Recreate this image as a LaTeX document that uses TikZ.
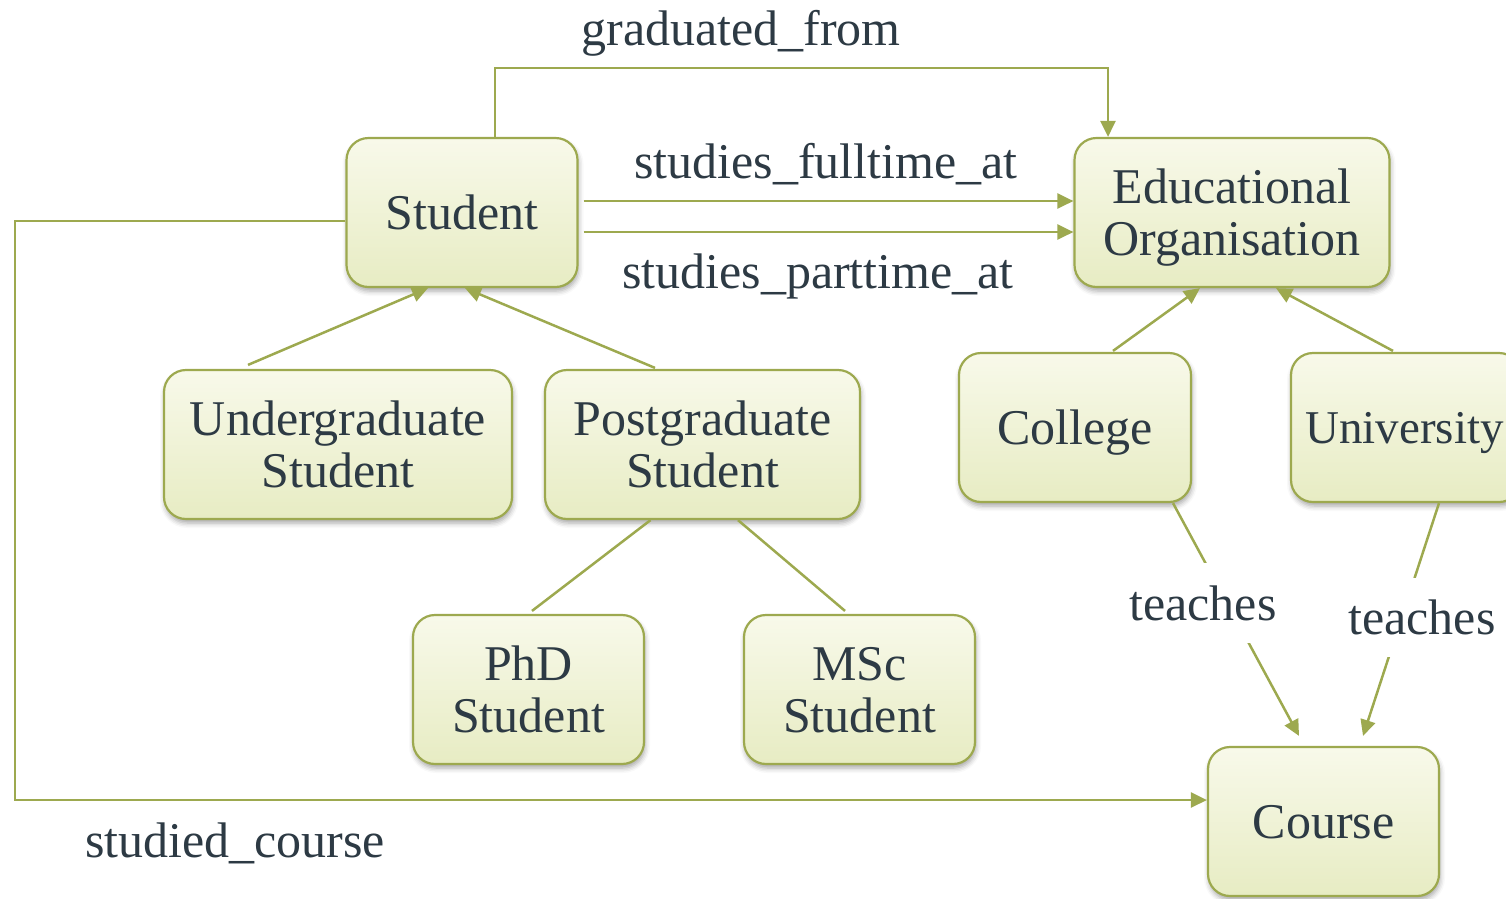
\documentclass[tikz,border=0pt]{standalone}
\usepackage{fontspec}
\setmainfont{Liberation Serif}
\usetikzlibrary{arrows.meta,shadows.blur}
\definecolor{edgeol}{HTML}{9DA94F}
\definecolor{boxtop}{HTML}{F8F9EA}
\definecolor{boxbot}{HTML}{E7ECC3}
\definecolor{inkc}{HTML}{2D3A44}
\begin{document}
\begin{tikzpicture}[x=1pt,y=-1pt,
  box/.style={draw=edgeol, line width=2.2pt, rounded corners=22pt,
    top color=boxtop, bottom color=boxbot, minimum height=149pt,
    align=center, text=inkc, font=\fontsize{50}{52}\selectfont, inner sep=0pt,
    text depth=0pt,
    blur shadow={shadow xshift=1pt, shadow yshift=-4pt, shadow blur radius=5pt, shadow opacity=35}},
  conn/.style={draw=edgeol, line width=2.5pt},
  arr/.style={conn, -{Triangle[length=16pt,width=15pt]}},
  lbl/.style={text=inkc, font=\fontsize{50}{52}\selectfont, inner sep=0pt, anchor=base},
  gaplbl/.style={text=inkc, font=\fontsize{50}{52}\selectfont, inner sep=0pt,
    fill=white, minimum width=150pt}]
\clip (0,0) rectangle (1506,898);

% entity boxes
\node[box, minimum width=231pt] (student) at (462,212.5) {Student};
\node[box, minimum width=315pt] (edu) at (1232,212.5) {Educational\\Organisation};
\node[box, minimum width=348pt] (ug) at (338,444.5) {Undergraduate\\Student};
\node[box, minimum width=315pt] (pg) at (702.5,444.5) {Postgraduate\\Student};
\node[box, minimum width=232pt] (college) at (1075,427.5) {College};
\node[box, minimum width=230pt, font=\fontsize{47}{52}\selectfont] (uni) at (1406,427.5) {\hspace*{-3pt}University};
\node[box, minimum width=231pt] (phd) at (528.5,689.5) {PhD\\Student};
\node[box, minimum width=231pt] (msc) at (859.5,689.5) {MSc\\Student};
\node[box, minimum width=231pt] (course) at (1323.5,821.5) {Course};

% relations between Student and Educational Organisation
\coordinate (gtop) at (741,68);
\draw[arr] ([xshift=33pt]student.north) |- (gtop) -| ([xshift=-124pt]edu.north);
\node[lbl] (gf) at (741,45) {graduated\_from};

\draw[arr] ([shift={(5pt,11.5pt)}]student.east) -- ([yshift=11.5pt]edu.west);
\node[lbl] (sfa) at (826,178) {studies\_fulltime\_at};
\draw[arr] ([shift={(5pt,-19.5pt)}]student.east) -- ([yshift=-19.5pt]edu.west);
\node[lbl] (spa) at (818,288) {studies\_parttime\_at};

% studied course loop
\coordinate (scorner) at (15,800);
\draw[arr] ([yshift=-8.5pt]student.west) -| (scorner) -- ([yshift=21.5pt]course.west);
\node[lbl] (sc) at (235,857) {studied\_course};

% subclass hierarchy
\draw[arr] ([xshift=-90pt,yshift=4pt]ug.north) -- ([xshift=-34pt]student.south);
\draw[arr] ([xshift=-47.5pt,yshift=1pt]pg.north) -- ([xshift=3pt]student.south);
\draw[conn] ([xshift=-52pt]pg.south) -- ([xshift=3.5pt,yshift=3pt]phd.north);
\draw[conn] ([xshift=35.5pt]pg.south) -- ([xshift=-14.5pt,yshift=3pt]msc.north);
\draw[arr] ([xshift=38pt,yshift=1pt]college.north) -- ([xshift=-32pt]edu.south);
\draw[arr] ([xshift=-13pt,yshift=1pt]uni.north) -- ([xshift=44pt]edu.south);

% teaches relations, label breaks the line
\draw[arr] ([xshift=98pt]college.south) -- ([shift={(-24.5pt,10pt)}]course.north);
\node[gaplbl, minimum height=80pt] (t1) at (1203,603) {teaches};
\draw[arr] ([xshift=33pt]uni.south) -- ([shift={(39.5pt,10pt)}]course.north);
\node[gaplbl, minimum height=79pt] (t2) at (1422,617.5) {teaches};
\end{tikzpicture}
\end{document}
